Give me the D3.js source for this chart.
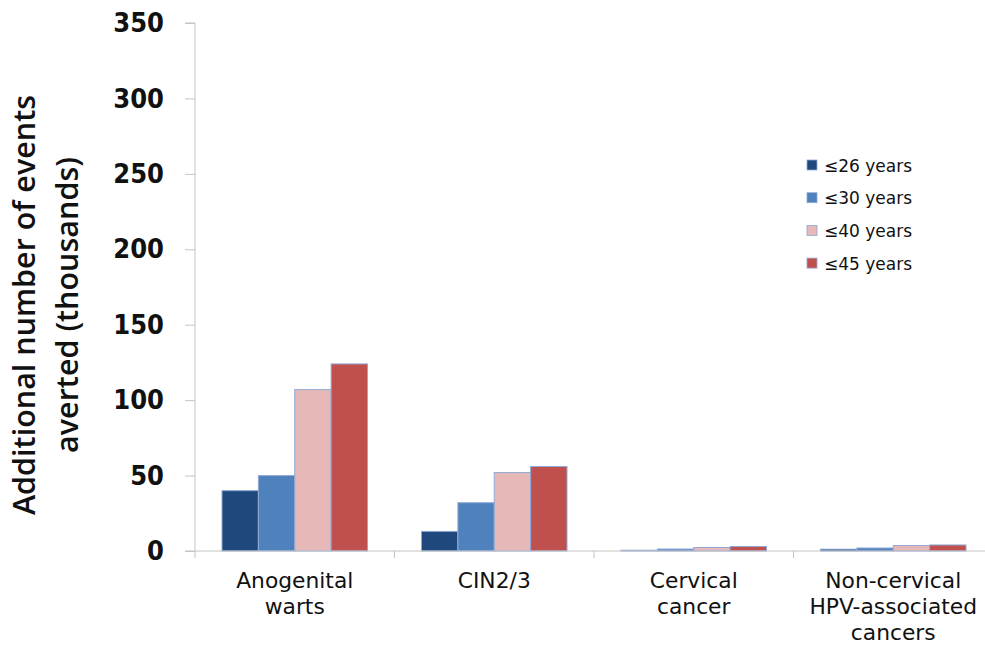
<!DOCTYPE html>
<html>
<head>
<meta charset="utf-8">
<script src="https://cdn.jsdelivr.net/npm/d3@7"></script>
<style>
  html, body { margin: 0; padding: 0; background: #fff; }
  svg { display: block; }
</style>
</head>
<body>
<svg id="chart" width="985" height="650"></svg>
<script>
// Outcome categories along the x axis (each label split into lines)
const categories = ["Anogenital warts", "CIN2/3", "Cervical cancer", "Non-cervical HPV-associated cancers"];
const categoryLines = [["Anogenital", "warts"], ["CIN2/3"], ["Cervical", "cancer"], ["Non-cervical", "HPV-associated", "cancers"]];

// Vaccination age limit series
const series = ["≤26 years", "≤30 years", "≤40 years", "≤45 years"];
const seriesColors = ["#1F497D", "#4F81BD", "#E6B9B8", "#C0504D"];

// Additional events averted (thousands), one array per series, in category order
const age26 = [40, 13, 0.5, 1.2];
const age30 = [50, 32, 1.3, 2.0];
const age40 = [107, 52, 2.3, 3.6];
const age45 = [124, 56, 3.0, 4.0];
const seriesValues = [age26, age30, age40, age45];

const yTicks = [0, 50, 100, 150, 200, 250, 300, 350];

const svg = d3.select("#chart");

const x0 = 195, plotTop = 23, plotBottom = 551, bandW = 199.5;

const x = d3.scaleBand()
  .domain(categories)
  .range([x0, x0 + bandW * categories.length])
  .padding(0);

const xs = d3.scaleBand()
  .domain(series)
  .range([27, bandW - 27])
  .padding(0);

const y = d3.scaleLinear()
  .domain([0, 350])
  .range([plotBottom, plotTop]);

const axisColor = "#c4c4c4";

// Y axis
const yAxis = svg.append("g")
  .attr("transform", `translate(${x0},0)`)
  .call(d3.axisLeft(y).tickValues(yTicks).tickSize(10).tickPadding(21).tickFormat(d3.format("d")));
yAxis.select(".domain").attr("stroke", axisColor).attr("d", `M-10,${plotTop}H0V${plotBottom + 7}`);
yAxis.selectAll(".tick line").attr("stroke", axisColor);
yAxis.selectAll(".tick text")
  .attr("fill", "#111")
  .style("font-family", "'DejaVu Sans Condensed', 'DejaVu Sans', sans-serif")
  .style("font-weight", "bold")
  .style("font-size", "27px");

// Bars
const groups = svg.append("g").selectAll("g")
  .data(categories)
  .join("g")
  .attr("transform", d => `translate(${x(d)},0)`);

groups.selectAll("rect")
  .data((c, ci) => series.map((s, si) => ({ s, si, v: seriesValues[si][ci] })))
  .join("rect")
  .attr("x", d => xs(d.s))
  .attr("y", d => y(d.v))
  .attr("width", xs.bandwidth())
  .attr("height", d => y(0) - y(d.v))
  .attr("fill", d => seriesColors[d.si])
  .attr("stroke", "#8fa9d6")
  .attr("stroke-width", 1);

// X axis
const xAxis = svg.append("g")
  .attr("transform", `translate(0,${plotBottom})`);
xAxis.append("line")
  .attr("x1", x0 - 10).attr("x2", 985)
  .attr("stroke", axisColor);
xAxis.selectAll("line.tk")
  .data(categories.slice(1))
  .join("line")
  .attr("class", "tk")
  .attr("x1", d => x(d)).attr("x2", d => x(d))
  .attr("y1", 0).attr("y2", 7)
  .attr("stroke", axisColor);

// Category labels
const catFont = "'DejaVu Sans', Verdana, sans-serif";
svg.append("g").selectAll("text")
  .data(categories)
  .join("text")
  .attr("x", d => x(d) + bandW / 2)
  .attr("y", 588)
  .attr("text-anchor", "middle")
  .attr("fill", "#111")
  .style("font-family", catFont)
  .style("font-size", "21.8px")
  .selectAll("tspan")
  .data((d, i) => categoryLines[i])
  .join("tspan")
  .attr("x", function () { return this.parentNode.getAttribute("x"); })
  .attr("dy", (d, i) => i === 0 ? 0 : 26)
  .text(d => d);

// Y axis title
const yTitle = svg.append("text")
  .attr("transform", "translate(35,305) rotate(-90)")
  .attr("text-anchor", "middle")
  .attr("fill", "#111")
  .style("font-family", "'Open Sans', sans-serif")
  .style("font-weight", "600")
  .style("font-size", "30.5px");
yTitle.append("tspan").attr("x", 0).attr("y", 0).text("Additional number of events");
yTitle.append("tspan").attr("x", 0).attr("y", 43).text("averted (thousands)");

// Legend
const legend = svg.append("g").selectAll("g")
  .data(series)
  .join("g")
  .attr("transform", (d, i) => `translate(807,${165 + i * 32.7})`);
legend.append("rect")
  .attr("x", 0).attr("y", -5)
  .attr("width", 10).attr("height", 10)
  .attr("fill", (d, i) => seriesColors[i])
  .attr("stroke", "#8fa9d6")
  .attr("stroke-width", 0.8);
legend.append("text")
  .attr("x", 17).attr("y", 6.5)
  .attr("fill", "#111")
  .style("font-family", catFont)
  .style("font-size", "17px")
  .text(d => d);
</script>
</body>
</html>
